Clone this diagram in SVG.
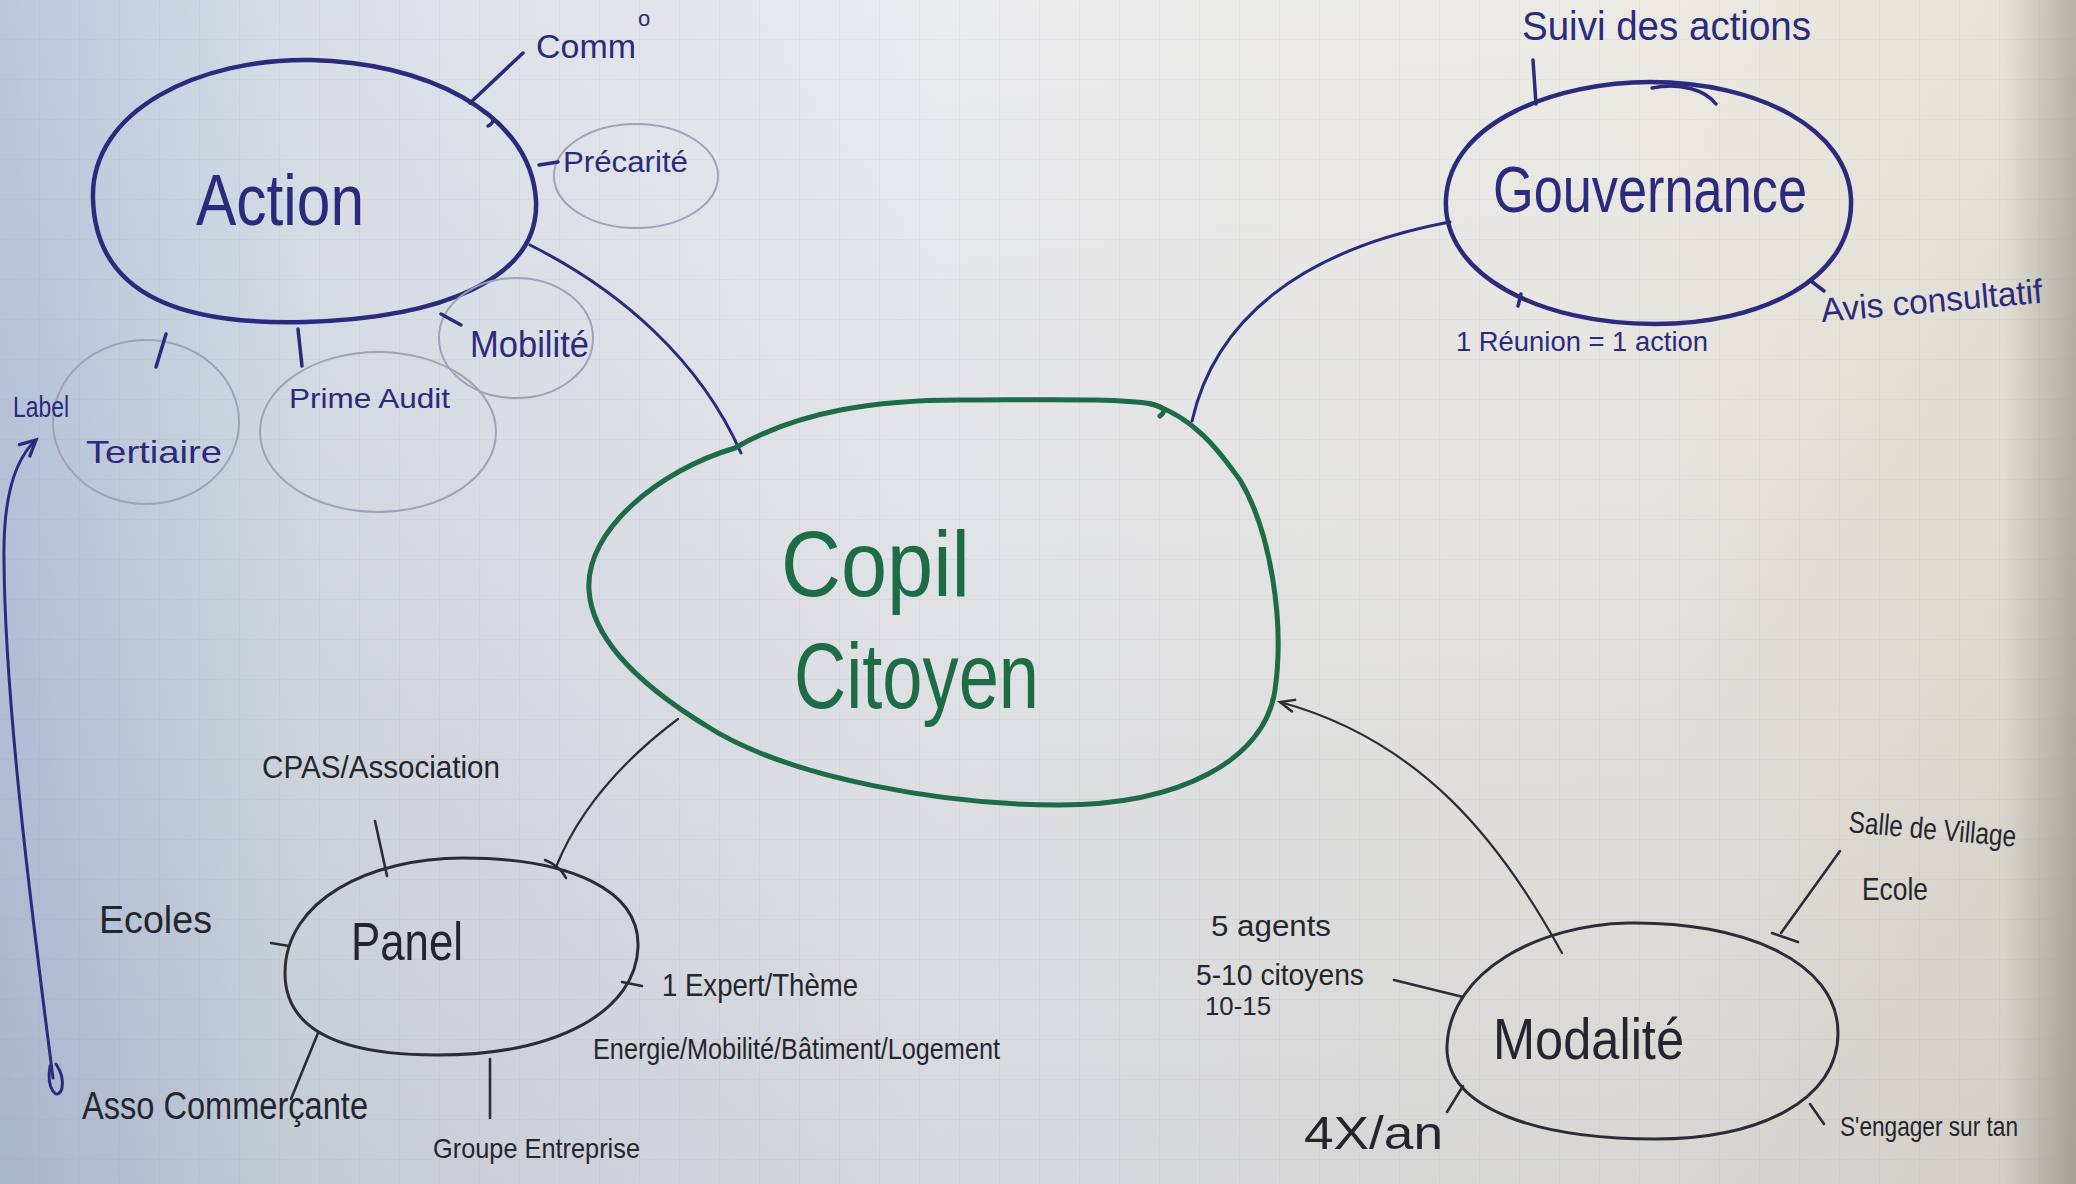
<svg xmlns="http://www.w3.org/2000/svg" width="2076" height="1184" viewBox="0 0 2076 1184">
<defs>
<linearGradient id="bg" x1="0" y1="0" x2="1" y2="0">
<stop offset="0" stop-color="#aebdd6"/>
<stop offset="0.15" stop-color="#d3d9e3"/>
<stop offset="0.45" stop-color="#e6e7ea"/>
<stop offset="0.8" stop-color="#e9e6de"/>
<stop offset="0.965" stop-color="#e2ddd1"/>
<stop offset="1" stop-color="#a9a395"/>
</linearGradient>
<linearGradient id="shade" x1="0" y1="0" x2="0" y2="1">
<stop offset="0" stop-color="#ffffff" stop-opacity="0.15"/>
<stop offset="1" stop-color="#8a90a0" stop-opacity="0.18"/>
</linearGradient>
<pattern id="grid" width="40" height="40" patternUnits="userSpaceOnUse">
<path d="M40 0 V40 M0 40 H40" fill="none" stroke="#8c92a8" stroke-opacity="0.16" stroke-width="1.2"/>
</pattern>
<marker id="arrBlue" viewBox="0 0 20 20" refX="16" refY="10" markerWidth="22" markerHeight="22" markerUnits="userSpaceOnUse" orient="auto">
<path d="M2 3 L16 10 L2 17" fill="none" stroke="#2b2a7c" stroke-width="3" stroke-linecap="round"/>
</marker>
<marker id="arrDark" viewBox="0 0 20 20" refX="16" refY="10" markerWidth="20" markerHeight="20" markerUnits="userSpaceOnUse" orient="auto">
<path d="M2 4 L16 10 L2 16" fill="none" stroke="#2c2c34" stroke-width="2.5" stroke-linecap="round"/>
</marker>
</defs>
<style>
.hand{font-family:"Liberation Sans","DejaVu Sans",sans-serif;}
.blue{fill:#2b2a7c;}
.green{fill:#1d6b47;}
.dark{fill:#25252d;}
.blob-blue{fill:none;stroke:#2b2a7c;stroke-width:4.5;stroke-linecap:round;stroke-linejoin:round;}
.blob-green{fill:none;stroke:#1d6b47;stroke-width:5;stroke-linecap:round;stroke-linejoin:round;}
.blob-dark{fill:none;stroke:#2c2c34;stroke-width:3;stroke-linejoin:round;}
.faint{fill:none;stroke:#9fa2b6;stroke-width:2;}
.tick-blue{stroke:#2b2a7c;stroke-width:3.5;stroke-linecap:round;fill:none;}
.tick-dark{stroke:#2c2c34;stroke-width:2.6;stroke-linecap:round;fill:none;}
.conn-blue{fill:none;stroke:#2b2a7c;stroke-width:3;stroke-linecap:round;}
.conn-dark{fill:none;stroke:#2c2c34;stroke-width:2.2;stroke-linecap:round;}
</style>
<rect width="2076" height="1184" fill="url(#bg)"/>
<rect width="2076" height="1184" fill="url(#shade)"/>
<rect width="2076" height="1184" fill="url(#grid)"/>

<g id="connectors">
<path class="conn-blue" d="M530,245 C620,290 700,360 741,453"/>
<path class="conn-blue" d="M1192,421 C1215,320 1300,250 1450,222"/>
<path class="conn-dark" d="M556,867 C575,820 610,770 678,719"/>
<path class="conn-dark" marker-end="url(#arrDark)" d="M1562,953 C1500,840 1420,740 1280,702"/>
<path class="conn-blue" marker-end="url(#arrBlue)" d="M53,1078 C30,900 5,700 4,560 C3,500 14,460 36,440"/>
<path class="conn-blue" d="M50,1066 C46,1090 58,1102 62,1088 C64,1078 60,1070 56,1064"/>
</g>

<g id="node-copil">
<path class="blob-green" d="M589,590 C585,530 660,470 735,448 C800,410 880,400 960,400 C1040,400 1120,398 1152,404 C1200,420 1225,460 1240,480 C1270,530 1285,620 1275,690 C1265,760 1180,805 1059,805 C950,805 790,780 705,725 C640,685 592,640 589,590 Z"/>
<path class="blob-green" d="M1150,404 C1162,406 1168,410 1160,416"/>
<text class="hand green" x="781" y="596" font-size="92" textLength="189" lengthAdjust="spacingAndGlyphs">Copil</text>
<text class="hand green" x="794" y="708" font-size="92" textLength="245" lengthAdjust="spacingAndGlyphs">Citoyen</text>
</g>

<g id="node-action">
<path class="blob-blue" d="M93,199 C90,110 200,58 311,60 C420,62 530,110 536,200 C540,280 440,318 305,322 C190,325 96,300 93,199 Z"/>
<path class="tick-blue" d="M484,112 C494,116 496,122 488,126"/>
<text class="hand blue" x="196" y="225" font-size="72" textLength="168" lengthAdjust="spacingAndGlyphs">Action</text>
</g>

<g id="leaf-comm">
<path class="tick-blue" d="M470,103 L523,53"/>
<text class="hand blue" x="536" y="58" font-size="34" textLength="100" lengthAdjust="spacingAndGlyphs">Comm</text>
<text class="hand blue" x="638" y="26" font-size="22">o</text>
</g>

<g id="leaf-precarite">
<ellipse class="faint" cx="636" cy="176" rx="82" ry="52"/>
<path class="tick-blue" d="M539,165 L558,162"/>
<text class="hand blue" x="563" y="172" font-size="30" textLength="125" lengthAdjust="spacingAndGlyphs">Précarité</text>
</g>

<g id="leaf-mobilite">
<ellipse class="faint" cx="516" cy="338" rx="77" ry="60"/>
<path class="tick-blue" d="M441,314 L461,325"/>
<text class="hand blue" x="470" y="357" font-size="36" textLength="119" lengthAdjust="spacingAndGlyphs">Mobilité</text>
</g>

<g id="leaf-prime-audit">
<ellipse class="faint" cx="378" cy="432" rx="118" ry="80"/>
<path class="tick-blue" d="M298,329 L302,366"/>
<text class="hand blue" x="289" y="408" font-size="28" textLength="161" lengthAdjust="spacingAndGlyphs">Prime Audit</text>
</g>

<g id="leaf-label-tertiaire">
<ellipse class="faint" cx="146" cy="422" rx="93" ry="82"/>
<path class="tick-blue" d="M166,334 L156,367"/>
<text class="hand blue" x="13" y="417" font-size="30" textLength="56" lengthAdjust="spacingAndGlyphs">Label</text>
<text class="hand blue" x="86" y="463" font-size="32" textLength="136" lengthAdjust="spacingAndGlyphs">Tertiaire</text>
</g>

<g id="node-gouvernance">
<path class="blob-blue" d="M1446,199 C1450,120 1560,82 1650,82 C1760,82 1848,130 1851,199 C1854,280 1760,324 1655,324 C1540,324 1442,275 1446,199 Z"/>
<path class="tick-blue" d="M1652,88 C1680,82 1705,90 1716,104"/>
<text class="hand blue" x="1493" y="212" font-size="64" textLength="314" lengthAdjust="spacingAndGlyphs">Gouvernance</text>
</g>

<g id="leaf-suivi">
<path class="tick-blue" d="M1533,60 L1536,104"/>
<text class="hand blue" x="1522" y="40" font-size="40" textLength="289" lengthAdjust="spacingAndGlyphs">Suivi des actions</text>
</g>

<g id="leaf-avis">
<path class="tick-blue" d="M1811,281 L1824,291"/>
<text class="hand blue" x="1822" y="322" font-size="34" textLength="222" lengthAdjust="spacingAndGlyphs" transform="rotate(-5 1822 322)">Avis consultatif</text>
</g>

<g id="leaf-reunion">
<path class="tick-blue" d="M1521,294 L1518,306"/>
<text class="hand blue" x="1456" y="351" font-size="28" textLength="252" lengthAdjust="spacingAndGlyphs">1 Réunion = 1 action</text>
</g>

<g id="node-panel">
<path class="blob-dark" d="M285,973 C285,900 370,858 463,858 C570,858 640,890 638,947 C636,1010 560,1055 437,1055 C340,1055 285,1030 285,973 Z"/>
<path class="tick-dark" d="M545,860 C555,864 562,870 566,878"/>
<text class="hand dark" x="351" y="960" font-size="54" textLength="112" lengthAdjust="spacingAndGlyphs">Panel</text>
</g>

<g id="leaf-cpas">
<path class="tick-dark" d="M375,821 L387,876"/>
<text class="hand dark" x="262" y="778" font-size="32" textLength="238" lengthAdjust="spacingAndGlyphs">CPAS/Association</text>
</g>

<g id="leaf-ecoles">
<path class="tick-dark" d="M271,943 L289,946"/>
<text class="hand dark" x="99" y="933" font-size="38" textLength="113" lengthAdjust="spacingAndGlyphs">Ecoles</text>
</g>

<g id="leaf-asso">
<path class="tick-dark" d="M318,1033 L291,1099"/>
<text class="hand dark" x="82" y="1119" font-size="38" textLength="286" lengthAdjust="spacingAndGlyphs">Asso Commerçante</text>
</g>

<g id="leaf-groupe">
<path class="tick-dark" d="M490,1059 L490,1118"/>
<text class="hand dark" x="433" y="1158" font-size="28" textLength="207" lengthAdjust="spacingAndGlyphs">Groupe Entreprise</text>
</g>

<g id="leaf-expert">
<path class="tick-dark" d="M622,982 L642,986"/>
<text class="hand dark" x="662" y="996" font-size="32" textLength="196" lengthAdjust="spacingAndGlyphs">1 Expert/Thème</text>
<text class="hand dark" x="593" y="1059" font-size="30" textLength="407" lengthAdjust="spacingAndGlyphs">Energie/Mobilité/Bâtiment/Logement</text>
</g>

<g id="node-modalite">
<path class="blob-dark" d="M1447,1046 C1450,970 1540,925 1628,923 C1740,921 1838,960 1838,1033 C1838,1100 1760,1139 1655,1139 C1540,1139 1445,1110 1447,1046 Z"/>
<text class="hand dark" x="1493" y="1059" font-size="58" textLength="191" lengthAdjust="spacingAndGlyphs">Modalité</text>
</g>

<g id="leaf-agents">
<path class="tick-dark" d="M1394,980 L1463,997"/>
<text class="hand dark" x="1211" y="936" font-size="30" textLength="120" lengthAdjust="spacingAndGlyphs">5 agents</text>
<text class="hand dark" x="1196" y="985" font-size="30" textLength="168" lengthAdjust="spacingAndGlyphs">5-10 citoyens</text>
<text class="hand dark" x="1205" y="1015" font-size="26" textLength="66" lengthAdjust="spacingAndGlyphs">10-15</text>
</g>

<g id="leaf-salle">
<path class="tick-dark" d="M1840,851 L1781,933"/>
<path class="tick-dark" d="M1772,933 L1798,942"/>
<text class="hand dark" x="1848" y="832" font-size="30" textLength="168" lengthAdjust="spacingAndGlyphs" transform="rotate(5 1848 832)">Salle de Village</text>
<text class="hand dark" x="1862" y="900" font-size="32" textLength="66" lengthAdjust="spacingAndGlyphs">Ecole</text>
</g>

<g id="leaf-engager">
<path class="tick-dark" d="M1810,1104 L1824,1124"/>
<text class="hand dark" x="1840" y="1136" font-size="28" textLength="178" lengthAdjust="spacingAndGlyphs">S'engager sur tan</text>
</g>

<g id="leaf-4x">
<path class="tick-dark" d="M1463,1086 L1447,1112"/>
<text class="hand dark" x="1304" y="1149" font-size="46" textLength="139" lengthAdjust="spacingAndGlyphs">4X/an</text>
</g>
</svg>
